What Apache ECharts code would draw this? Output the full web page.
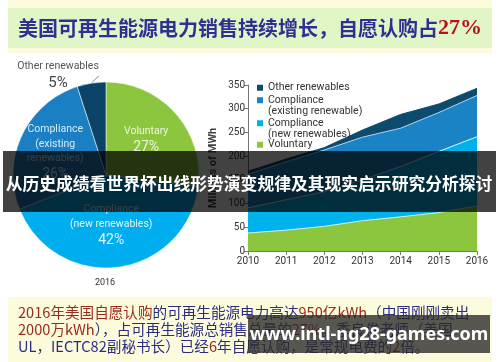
<!DOCTYPE html>
<html><head><meta charset="utf-8">
<script src="https://cdn.jsdelivr.net/npm/echarts@6/dist/echarts.min.js"></script>
<style>html,body{margin:0;padding:0;background:#fff}#c{width:500px;height:362px}</style>
</head><body><div id="c"></div>
<script>
// ---- data ----
const pieNames = ['Voluntary', 'Compliance (new renewables)', 'Compliance (existing renewables)', 'Other renewables'];
const pieShares = [27, 42, 26, 5];
const pieLabelLines = [['Voluntary'], ['Compliance', '(new renewables)'], ['Compliance', '(existing', 'renewables)'], ['Other renewables']];
const pieYear = '2016';

const years = ['2010', '2011', '2012', '2013', '2014', '2015', '2016'];
const seriesNames = ['Voluntary', 'Compliance\n(new renewables)', 'Compliance\n(existing renewable)', 'Other renewables'];
const voluntary = [38, 44, 52, 64, 72, 81, 95];
const complianceNew = [53, 64, 73, 86, 106, 129, 146];
const complianceExisting = [71, 80, 88, 90, 81, 82, 87];
const otherRenewables = [6, 6, 5, 15, 29, 18, 15];
const yMin = 0, yMax = 350, yStep = 50;
const yAxisTitle = 'Millions of MWh';

const titleMain = '美国可再生能源电力销售持续增长，自愿认购占';
const titlePct = '27%';
const overlayText = '从历史成绩看世界杯出线形势演变规律及其现实启示研究分析探讨';
const watermarkText = 'www.intl-ng28-games.com';
const noteLines = [
  [['r', '2016年美国自愿认购'], ['b', '的可再生能源电力高达'], ['r', '950亿kWh'], ['b', '（中国刚刚卖出']],
  [['r', '2000万kWh'], ['b', '），占可再生能源总销售总量的'], ['r', '27%'], ['b', '。季良俊老师（美国']],
  [['b', 'UL，IECTC82副秘书长）已经'], ['r', '6'], ['b', '年自愿认购，是常规电费的'], ['r', '2'], ['b', '倍。']]
];

// ---- styles ----
const NARROW = 'Liberation Sans Narrow, Roboto, sans-serif';
const pieColors = ['#8cc63f', '#00aeef', '#1b7fc4', '#0b4468'];
const pieLabelColors = ['#eef5dc', '#e2f4fb', '#d8eaf6', '#555'];
const areaColors = ['#8cc63f', '#00b2ec', '#1a83c6', '#0c4a6e'];
const edgeColors = ['#c8eef8', '#d8f0fa', '#a9d3ec', '#0c4a6e'];
const pieLabelShift = [[3, -2], [-1, 2], [-6, -1]];

const chart = echarts.init(document.getElementById('c'), null, {renderer: 'canvas'});

const stackData = [voluntary, complianceNew, complianceExisting, otherRenewables];
const lineSeries = stackData.map((d, i) => ({
  type: 'line', name: seriesNames[i], stack: 'total', data: d,
  symbol: 'none', smooth: false, z: 3,
  itemStyle: {color: areaColors[i]},
  lineStyle: {width: 1, color: edgeColors[i]},
  areaStyle: {color: areaColors[i], opacity: 1}
}));

function legendFor(idx, top, twoLine) {
  return {
    data: [seriesNames[idx]], left: 257, top: top, orient: 'vertical',
    itemWidth: 6, itemHeight: 6, itemGap: 0, padding: 0, icon: 'rect',
    selectedMode: false,
    formatter: function (name) { return twoLine ? ' \n' + name : name; },
    textStyle: {fontSize: 10.5, lineHeight: 11.5, color: '#333', fontFamily: 'Roboto, sans-serif'}
  };
}

const noteRich = {
  r: {fill: '#9b2a1e', fontSize: 14.6, fontFamily: 'Noto Sans CJK SC'},
  b: {fill: '#2b2d80', fontSize: 14.6, fontFamily: 'Noto Sans CJK SC'}
};
const noteGraphics = noteLines.map((segs, i) => ({
  type: 'text', z: 1, x: 18, y: 312 + i * 17,
  style: {
    text: segs.map(s => '{' + s[0] + '|' + s[1] + '}').join(''),
    rich: noteRich, align: 'left', verticalAlign: 'middle'
  }
}));

const option = {
  animation: false,
  backgroundColor: '#ffffff',
  legend: [legendFor(3, 82, false), legendFor(2, 83, true), legendFor(1, 106, true), legendFor(0, 139, false)],
  grid: {left: 248, right: 23, top: 85, bottom: 111},
  xAxis: {
    type: 'category', data: years, boundaryGap: false,
    axisLine: {lineStyle: {color: '#777', width: 1}},
    axisTick: {show: true, length: 4, lineStyle: {color: '#777'}},
    axisLabel: {color: '#333', fontSize: 10, margin: 5, fontFamily: 'Roboto, sans-serif'},
    splitLine: {show: false}
  },
  yAxis: {
    type: 'value', min: yMin, max: yMax, interval: yStep,
    name: yAxisTitle, nameLocation: 'middle', nameRotate: 90, nameGap: 29,
    nameTextStyle: {color: '#444', fontSize: 11, fontWeight: 'bold', fontFamily: 'Roboto, sans-serif'},
    axisLine: {show: true, lineStyle: {color: '#777', width: 1}},
    axisTick: {show: true, length: 4, lineStyle: {color: '#777'}},
    axisLabel: {color: '#333', fontSize: 10, margin: 3, fontFamily: 'Roboto, sans-serif'},
    splitLine: {show: false}
  },
  series: [
    {
      type: 'pie', center: [106, 175], radius: [0, 93], startAngle: 90, clockwise: true,
      z: 3, silent: true,
      itemStyle: {borderColor: 'rgba(255,255,255,0.65)', borderWidth: 0.8},
      data: pieNames.map((n, i) => ({
        name: n, value: pieShares[i],
        itemStyle: {color: pieColors[i]},
        label: i === 3 ? {position: 'outside', color: pieLabelColors[i]} : {position: 'inside', color: pieLabelColors[i]},
        labelLine: i === 3 ? {show: true, length: 6, length2: 0, lineStyle: {color: '#666', width: 0.8}} : {show: false}
      })),
      label: {
        show: true, fontFamily: NARROW, overflow: 'none',
        formatter: function (p) {
          const big = p.dataIndex === 3 ? 'q' : 'p';
          const sm = p.dataIndex === 3 ? 'm' : 'n';
          return pieLabelLines[p.dataIndex].map(l => '{' + sm + '|' + l + '}').join('\n') + '\n{' + big + '|' + p.value + '%}';
        },
        rich: {
          n: {fontSize: 10.5, lineHeight: 14.5, fontFamily: NARROW},
          p: {fontSize: 14, lineHeight: 18, fontFamily: NARROW},
          m: {fontSize: 10.5, lineHeight: 14, color: '#555', fontFamily: NARROW},
          q: {fontSize: 15, lineHeight: 19, color: '#444', fontFamily: NARROW}
        }
      },
      labelLayout: function (params) {
        if (params.seriesIndex !== 0) return {};
        if (params.dataIndex === 3) return {x: 58, y: 76, align: 'center', verticalAlign: 'middle'};
        const s = pieLabelShift[params.dataIndex];
        return {dx: s[0], dy: s[1]};
      }
    }
  ].concat(lineSeries),
  graphic: [
    {type: 'rect', z: 0, shape: {x: 8, y: 0, width: 484, height: 53}, style: {fill: '#fcfbdd'}},
    {type: 'rect', z: 0, shape: {x: 8, y: 8, width: 484, height: 40}, style: {fill: '#e2f5c6'}},
    {type: 'text', z: 1, x: 250, y: 28, style: {
      text: '{t|' + titleMain + '}{p|' + titlePct + '}',
      rich: {
        t: {fill: '#2e3192', fontSize: 20, fontWeight: 'bold', fontFamily: 'Noto Sans CJK SC'},
        p: {fill: '#b5121b', fontSize: 22, fontWeight: 'bold', fontFamily: 'Liberation Serif'}
      },
      align: 'center', verticalAlign: 'middle'
    }},
    {type: 'text', z: 1, x: 105, y: 283, style: {text: pieYear, fill: '#333', fontSize: 9, fontFamily: 'Roboto, sans-serif', align: 'center', verticalAlign: 'middle'}},
    {type: 'rect', z: 0, shape: {x: 8, y: 297, width: 484, height: 65}, style: {fill: '#fcfbdc'}}
  ].concat(noteGraphics).concat([
    {type: 'rect', z: 50, shape: {x: 3, y: 151, width: 493, height: 61}, style: {fill: 'rgba(0,0,0,0.74)'}},
    {type: 'text', z: 51, x: 249, y: 184, style: {text: overlayText, fill: '#ffffff', fontSize: 16.8, fontWeight: 'bold', fontFamily: 'Noto Sans CJK SC', align: 'center', verticalAlign: 'middle'}},
    {type: 'rect', z: 50, shape: {x: 248, y: 315, width: 242, height: 38}, style: {fill: 'rgba(40,40,40,0.78)'}},
    {type: 'text', z: 51, x: 369, y: 335, style: {text: watermarkText, fill: '#ffffff', fontSize: 18, fontWeight: 'bold', fontFamily: 'Noto Sans', align: 'center', verticalAlign: 'middle'}}
  ])
};
chart.setOption(option);
</script>
</body></html>
